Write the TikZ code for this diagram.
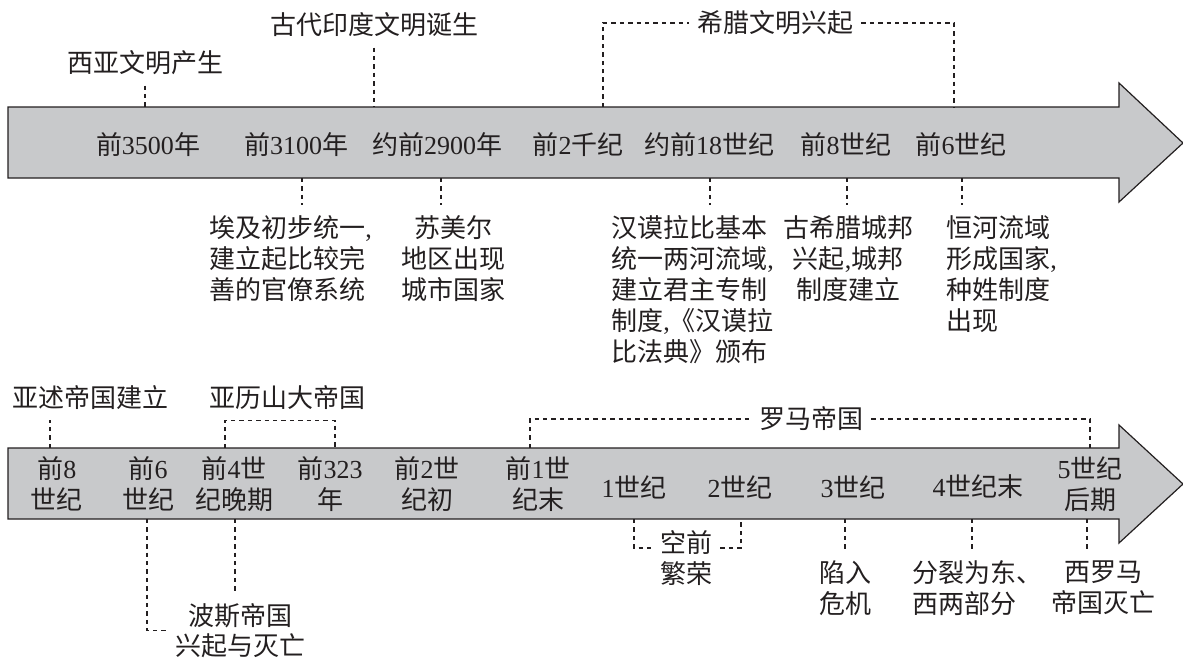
\documentclass[tikz,border=0pt]{standalone}
\usepackage{fontspec}
\setmainfont{Liberation Serif}
\newfontfamily\latinfont{Liberation Serif}
\newfontfamily\cjk{Noto Sans CJK SC}
% Chinese characters in the CJK font, digits in the serif font
\XeTeXinterchartokenstate=1
\newXeTeXintercharclass\cjkcls
\count255="3000
\loop
  \XeTeXcharclass\count255=\cjkcls
  \advance\count255 by 1
\ifnum\count255<"A000 \repeat
\count255="FF00
\loop
  \XeTeXcharclass\count255=\cjkcls
  \advance\count255 by 1
\ifnum\count255<"FFF0 \repeat
\XeTeXinterchartoks 0 \cjkcls = {\cjk}
\XeTeXinterchartoks \cjkcls 0 = {\latinfont}
\XeTeXinterchartoks 4095 \cjkcls = {\cjk}
\XeTeXinterchartoks \cjkcls 4095 = {\latinfont}
\definecolor{barfill}{RGB}{200,201,203}
\definecolor{ink}{RGB}{35,31,32}
\begin{document}
\begin{tikzpicture}[x=0.5pt,y=-0.5pt,font=\fontsize{13}{15.5}\selectfont,text=ink,
    bar/.style={draw=ink,line width=0.6pt,fill=barfill},
    guide/.style={draw=ink,line width=0.65pt,dash pattern=on 2.2pt off 2pt},
    lbl/.style={inner xsep=4pt,inner ysep=5pt},
    date/.style={inner sep=0pt,align=center}]
\useasboundingbox (0,0) rectangle (1183,660);

% upper time line
\draw[bar] (8,107) -- (1119,107) -- (1119,83) -- (1183,143) -- (1119,202) -- (1119,178) -- (8,178) -- cycle;
\node[date] (u1) at (148,145) {前3500年};
\node[date] (u2) at (296,145) {前3100年};
\node[date] (u3) at (437,145) {约前2900年};
\node[date] (u4) at (578,145) {前2千纪};
\node[date] (u5) at (709,145) {约前18世纪};
\node[date] (u6) at (846,145) {前8世纪};
\node[date] (u7) at (961,145) {前6世纪};

\node[lbl] (xiya) at (145,63) {西亚文明产生};
\node[lbl] (yindu) at (374,25) {古代印度文明诞生};
\node[lbl] (xila) at (775,23) {希腊文明兴起};
\coordinate (g1) at (603,107);
\coordinate (g2) at (954,107);
\draw[guide] (xiya.south) -- (xiya.south |- g1);
\draw[guide] (yindu.south) -- (yindu.south |- g1);
\draw[guide] (g1) |- (xila.west);
\draw[guide] (xila.east) -| (g2);

\node[lbl,anchor=north west,align=left] (aiji) at (201,205) {埃及初步统一,\\建立起比较完\\善的官僚系统};
\node[lbl,anchor=north,align=center] (sumer) at (453,205) {苏美尔\\地区出现\\城市国家};
\node[lbl,anchor=north west,align=left] (hanmo) at (603,205) {汉谟拉比基本\\统一两河流域,\\建立君主专制\\制度,《汉谟拉\\比法典》颁布};
\node[lbl,anchor=north,align=center] (chengbang) at (848,205) {古希腊城邦\\兴起,城邦\\制度建立};
\node[lbl,anchor=north west,align=left] (henghe) at (938,205) {恒河流域\\形成国家,\\种姓制度\\出现};
\coordinate (a2) at (302,178);
\coordinate (a3) at (441,178);
\coordinate (a5) at (710,178);
\coordinate (a6) at (847,178);
\coordinate (a7) at (962,178);
\draw[guide] (a2) -- (a2 |- aiji.north);
\draw[guide] (a3) -- (a3 |- sumer.north);
\draw[guide] (a5) -- (a5 |- hanmo.north);
\draw[guide] (a6) -- (a6 |- chengbang.north);
\draw[guide] (a7) -- (a7 |- henghe.north);

% lower time line
\draw[bar] (8,448) -- (1119,448) -- (1119,425) -- (1183,484) -- (1119,543) -- (1119,519) -- (8,519) -- cycle;
\node[date] (b1) at (57,484) {前8\\世纪};
\node[date] (b2) at (148,484) {前6\\世纪};
\node[date] (b3) at (234,484) {前4世\\纪晚期};
\node[date] (b4) at (330,484) {前323\\年};
\node[date] (b5) at (427,484) {前2世\\纪初};
\node[date] (b6) at (538,484) {前1世\\纪末};
\node[date] (b7) at (634,487) {1世纪};
\node[date] (b8) at (740,487) {2世纪};
\node[date] (b9) at (853,487) {3世纪};
\node[date] (b10) at (978,487) {4世纪末};
\node[date] (b11) at (1090,484) {5世纪\\后期};

\node[lbl] (yashu) at (90,398) {亚述帝国建立};
\node[lbl] (yali) at (287,398) {亚历山大帝国};
\node[lbl] (luoma) at (811,419) {罗马帝国};
\coordinate (c1) at (50,448);
\coordinate (c3) at (225,448);
\coordinate (c4) at (335,448);
\coordinate (c6) at (530,448);
\coordinate (c11) at (1090,448);
\draw[guide] (c1) -- (c1 |- yashu.south);
\draw[guide] (c3) -- (c3 |- yali.south) -| (c4);
\draw[guide] (c6) |- (luoma.west);
\draw[guide] (luoma.east) -| (c11);

\node[lbl,anchor=north,align=center,font=\fontsize{13}{15}\selectfont] (bosi) at (240,593) {波斯帝国\\兴起与灭亡};
\node[lbl,anchor=north,align=center] (fanrong) at (686,520) {空前\\繁荣};
\node[lbl,anchor=north,align=center] (weiji) at (845,550) {陷入\\危机};
\node[lbl,anchor=north west,align=left] (fenlie) at (904,550) {分裂为东、\\西两部分};
\node[lbl,anchor=north,align=center] (miewang) at (1103,550) {西罗马\\帝国灭亡};
\coordinate (d2) at (147,519);
\coordinate (d3) at (235,519);
\coordinate (d7) at (634,519);
\coordinate (d8) at (741,519);
\coordinate (d9) at (845,519);
\coordinate (d10) at (972,519);
\coordinate (d11) at (1087,519);
\draw[guide] (d2) |- (bosi.west);
\draw[guide] (d3) -- (d3 |- bosi.north);
\draw[guide] (d7) |- ([yshift=5pt]fanrong.west);
\draw[guide] ([yshift=5pt]fanrong.east) -| (d8);
\draw[guide] (d9) -- (d9 |- weiji.north);
\draw[guide] (d10) -- (d10 |- fenlie.north);
\draw[guide] (d11) -- (d11 |- miewang.north);
\end{tikzpicture}
\end{document}
